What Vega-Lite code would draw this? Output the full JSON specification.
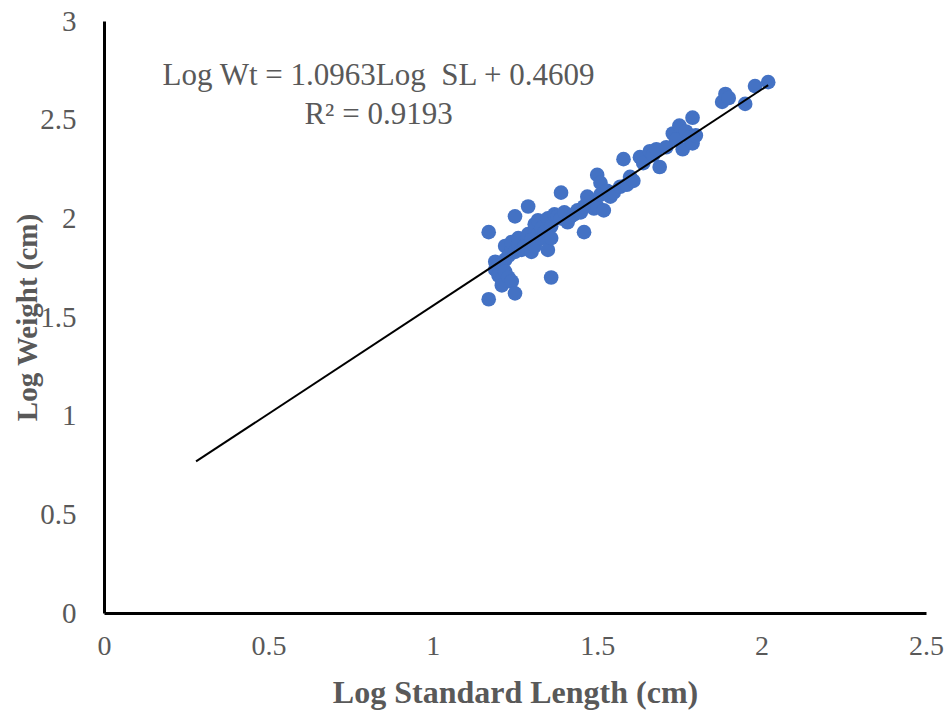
{
  "$schema": "https://vega.github.io/schema/vega-lite/v6.json",
  "width": 822,
  "height": 592,
  "autosize": {"type": "none"},
  "padding": {"left": 104, "top": 21, "right": 20, "bottom": 104},
  "background": "white",
  "config": {"view": {"stroke": null}, "font": "Liberation Serif"},
  "datasets": {
    "pts": [
      {"sl":1.17,"wt":1.93},{"sl":1.17,"wt":1.59},{"sl":1.19,"wt":1.78},{"sl":1.19,"wt":1.74},{"sl":1.20,"wt":1.76},
      {"sl":1.20,"wt":1.71},{"sl":1.21,"wt":1.69},{"sl":1.21,"wt":1.66},{"sl":1.22,"wt":1.79},{"sl":1.22,"wt":1.86},
      {"sl":1.22,"wt":1.73},{"sl":1.23,"wt":1.81},{"sl":1.23,"wt":1.70},{"sl":1.24,"wt":1.68},{"sl":1.24,"wt":1.85},
      {"sl":1.24,"wt":1.88},{"sl":1.25,"wt":1.62},{"sl":1.25,"wt":2.01},{"sl":1.25,"wt":1.83},{"sl":1.26,"wt":1.87},
      {"sl":1.26,"wt":1.90},{"sl":1.27,"wt":1.84},{"sl":1.28,"wt":1.88},{"sl":1.28,"wt":1.86},{"sl":1.29,"wt":2.06},
      {"sl":1.29,"wt":1.92},{"sl":1.30,"wt":1.89},{"sl":1.30,"wt":1.83},{"sl":1.31,"wt":1.97},{"sl":1.31,"wt":1.86},
      {"sl":1.32,"wt":1.92},{"sl":1.32,"wt":1.99},{"sl":1.33,"wt":1.90},{"sl":1.33,"wt":1.95},{"sl":1.34,"wt":1.93},
      {"sl":1.35,"wt":2.00},{"sl":1.35,"wt":1.84},{"sl":1.36,"wt":1.70},{"sl":1.36,"wt":1.96},{"sl":1.36,"wt":1.90},
      {"sl":1.37,"wt":2.02},{"sl":1.38,"wt":2.01},{"sl":1.39,"wt":2.13},{"sl":1.39,"wt":2.00},{"sl":1.40,"wt":2.03},
      {"sl":1.41,"wt":1.98},{"sl":1.42,"wt":2.01},{"sl":1.43,"wt":2.02},{"sl":1.44,"wt":2.04},{"sl":1.45,"wt":2.03},
      {"sl":1.46,"wt":1.93},{"sl":1.46,"wt":2.06},{"sl":1.47,"wt":2.11},{"sl":1.48,"wt":2.08},{"sl":1.49,"wt":2.05},
      {"sl":1.50,"wt":2.22},{"sl":1.50,"wt":2.06},{"sl":1.51,"wt":2.18},{"sl":1.51,"wt":2.12},{"sl":1.52,"wt":2.04},
      {"sl":1.53,"wt":2.14},{"sl":1.54,"wt":2.11},{"sl":1.55,"wt":2.13},{"sl":1.57,"wt":2.16},{"sl":1.58,"wt":2.30},
      {"sl":1.59,"wt":2.17},{"sl":1.60,"wt":2.21},{"sl":1.61,"wt":2.19},{"sl":1.63,"wt":2.31},{"sl":1.64,"wt":2.28},
      {"sl":1.66,"wt":2.34},{"sl":1.67,"wt":2.32},{"sl":1.68,"wt":2.35},{"sl":1.69,"wt":2.26},{"sl":1.71,"wt":2.36},
      {"sl":1.73,"wt":2.43},{"sl":1.74,"wt":2.40},{"sl":1.75,"wt":2.47},{"sl":1.76,"wt":2.35},{"sl":1.77,"wt":2.44},
      {"sl":1.78,"wt":2.41},{"sl":1.79,"wt":2.38},{"sl":1.79,"wt":2.51},{"sl":1.80,"wt":2.42},{"sl":1.88,"wt":2.59},
      {"sl":1.89,"wt":2.63},{"sl":1.90,"wt":2.61},{"sl":1.95,"wt":2.58},{"sl":1.98,"wt":2.67},{"sl":2.02,"wt":2.69}
    ],
    "trend": [
      {"sl": 0.28, "wt": 0.768},
      {"sl": 2.02, "wt": 2.675}
    ]
  },
  "layer": [
    {
      "data": {"name": "pts"},
      "mark": {"type": "point", "filled": true, "opacity": 1, "size": 215, "color": "#4472C4"},
      "encoding": {
        "x": {
          "field": "sl", "type": "quantitative",
          "scale": {"domain": [0, 2.5], "nice": false, "zero": false},
          "axis": {
            "title": "Log Standard Length (cm)",
            "values": [0, 0.5, 1, 1.5, 2, 2.5],
            "format": "~g",
            "grid": false, "ticks": false,
            "domainColor": "black", "domainWidth": 3,
            "labelFont": "Liberation Serif", "labelFontSize": 28, "labelColor": "#595959",
            "labelPadding": 19, "labelBaseline": "top", "labelFlush": false, "labelOverlap": false,
            "titleFont": "Liberation Serif", "titleFontSize": 32, "titleFontWeight": "bold", "titleColor": "#595959",
            "titleY": 79, "titleBaseline": "middle"
          }
        },
        "y": {
          "field": "wt", "type": "quantitative",
          "scale": {"domain": [0, 3], "nice": false, "zero": false},
          "axis": {
            "title": "Log Weight (cm)",
            "values": [0, 0.5, 1, 1.5, 2, 2.5, 3],
            "format": "~g",
            "grid": false, "ticks": false,
            "domainColor": "black", "domainWidth": 3,
            "labelFont": "Liberation Serif", "labelFontSize": 29, "labelColor": "#595959",
            "labelPadding": 28, "labelFlush": false, "labelOverlap": false,
            "titleFont": "Liberation Serif", "titleFontSize": 29, "titleFontWeight": "bold", "titleColor": "#595959",
            "titleX": -77, "titleY": 296, "titleAngle": -90, "titleBaseline": "middle", "titleAlign": "center"
          }
        }
      }
    },
    {
      "data": {"name": "trend"},
      "mark": {"type": "line", "color": "black", "strokeWidth": 2},
      "encoding": {
        "x": {"field": "sl", "type": "quantitative"},
        "y": {"field": "wt", "type": "quantitative"}
      }
    },
    {
      "data": {"values": [{"label": "Log Wt = 1.0963Log\u00a0 SL + 0.4609"}]},
      "mark": {"type": "text", "font": "Liberation Serif", "fontSize": 31, "color": "#595959", "align": "center", "baseline": "middle"},
      "encoding": {
        "x": {"datum": 0.835, "type": "quantitative"},
        "y": {"datum": 2.72, "type": "quantitative"},
        "text": {"field": "label"}
      }
    },
    {
      "data": {"values": [{"label": "R² = 0.9193"}]},
      "mark": {"type": "text", "font": "Liberation Serif", "fontSize": 31, "color": "#595959", "align": "center", "baseline": "middle"},
      "encoding": {
        "x": {"datum": 0.835, "type": "quantitative"},
        "y": {"datum": 2.525, "type": "quantitative"},
        "text": {"field": "label"}
      }
    }
  ]
}
